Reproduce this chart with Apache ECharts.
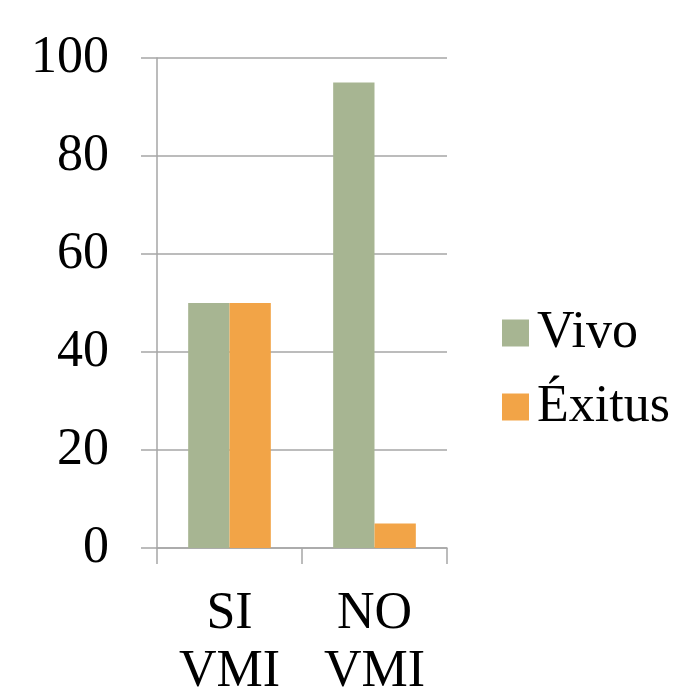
<!DOCTYPE html>
<html>
<head>
<meta charset="utf-8">
<script src="https://cdn.jsdelivr.net/npm/echarts@6/dist/echarts.min.js"></script>
<style>
  html, body { margin: 0; padding: 0; background: #fff; overflow: hidden; }
  #chart { width: 673px; height: 688px; }
</style>
</head>
<body>
<div id="chart"></div>
<script>
// Categories and series values
const categories = ['SI\nVMI', 'NO\nVMI'];
const vivo = [50, 95];
const exitus = [50, 5];
const seriesNames = ['Vivo', 'Éxitus'];

const serif = '"Liberation Serif", "DejaVu Serif", serif';
const axisGray = '#a6a6a6';

const chart = echarts.init(document.getElementById('chart'), null, { renderer: 'canvas', width: 673, height: 688 });
chart.setOption({
  animation: false,
  backgroundColor: '#ffffff',
  grid: { left: 157, width: 290, top: 58, height: 490, containLabel: false, outerBoundsMode: 'none' },
  legend: {
    orient: 'vertical',
    left: 497,
    top: 302,
    itemWidth: 27,
    itemHeight: 27,
    itemGap: 22,
    icon: 'rect',
    data: seriesNames,
    textStyle: { fontFamily: serif, fontSize: 52, color: '#000', lineHeight: 52, padding: [0, 0, 0, 3] }
  },
  xAxis: {
    type: 'category',
    data: categories,
    axisLine: { show: true, lineStyle: { color: axisGray, width: 1.5 } },
    axisTick: { show: true, length: 16, lineStyle: { color: axisGray, width: 1.5 } },
    axisLabel: { fontFamily: serif, fontSize: 52, color: '#000', lineHeight: 58, margin: 37 }
  },
  yAxis: {
    type: 'value',
    min: 0,
    max: 100,
    interval: 20,
    axisLine: { show: true, lineStyle: { color: axisGray, width: 1.5 } },
    axisTick: { show: true, length: 16, lineStyle: { color: axisGray, width: 1.5 } },
    splitLine: { show: true, lineStyle: { color: axisGray, width: 1.5 } },
    axisLabel: { fontFamily: serif, fontSize: 52, color: '#000', margin: 48 }
  },
  series: [
    {
      name: seriesNames[0],
      type: 'bar',
      data: vivo,
      barGap: '0%',
      barCategoryGap: '43%',
      itemStyle: { color: '#a7b592' }
    },
    {
      name: seriesNames[1],
      type: 'bar',
      data: exitus,
      barGap: '0%',
      barCategoryGap: '43%',
      itemStyle: { color: '#f2a447' }
    }
  ]
});
</script>
</body>
</html>
